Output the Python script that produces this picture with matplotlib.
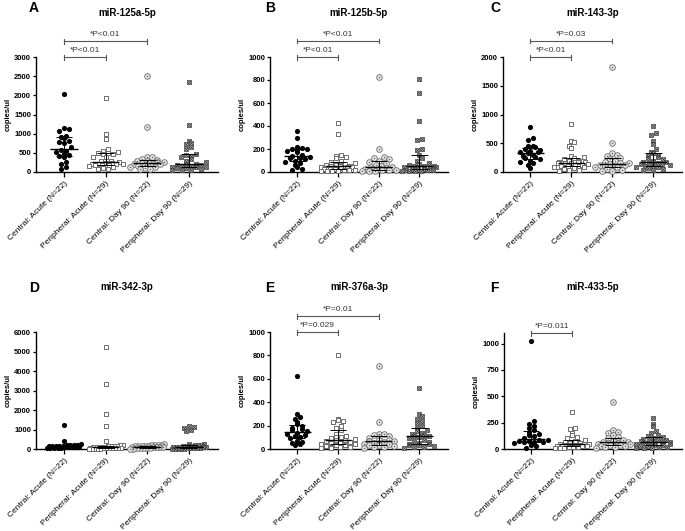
import numpy as np
import matplotlib
matplotlib.use('Agg')
import matplotlib.pyplot as plt

plt.rcParams['font.family'] = ['Liberation Sans', 'DejaVu Sans']

# ---- data (copies/ul) ----
group_labels = ['Central: Acute (N=22)', 'Peripheral: Acute (N=29)',
                'Central: Day 90 (N=22)', 'Peripheral: Day 90 (N=29)']

a_central_acute = [2030, 1150, 1120, 1080, 950, 920, 900, 820, 790, 760, 640,
                   580, 560, 530, 480, 450, 420, 390, 250, 200, 120, 90]
a_periph_acute = [1920, 1000, 870, 600, 560, 510, 500, 490, 470, 460, 400, 380,
                  300, 280, 250, 240, 230, 220, 210, 200, 200, 190, 180, 170,
                  150, 130, 110, 90, 80]
a_central_d90 = [2500, 1170, 400, 380, 350, 320, 300, 280, 260, 250, 240, 230,
                 220, 210, 200, 180, 160, 140, 120, 100, 90, 80]
a_periph_d90 = [2350, 1230, 800, 760, 720, 650, 600, 480, 450, 430, 400, 350,
                300, 250, 220, 200, 180, 170, 160, 150, 140, 130, 120, 110,
                100, 80, 60, 50, 40]

b_central_acute = [360, 300, 220, 210, 200, 200, 190, 180, 170, 150, 140, 130,
                   120, 120, 110, 100, 90, 80, 60, 40, 30, 20]
b_periph_acute = [430, 330, 150, 140, 130, 120, 100, 90, 80, 70, 60, 60, 55,
                  50, 50, 45, 40, 40, 35, 30, 30, 25, 20, 20, 15, 10, 10, 5, 5]
b_central_d90 = [830, 200, 130, 120, 110, 100, 90, 80, 60, 50, 45, 40, 35, 30,
                 30, 25, 20, 20, 15, 10, 10, 5]
b_periph_d90 = [810, 690, 440, 290, 280, 200, 190, 150, 120, 100, 80, 70, 60,
                55, 50, 50, 45, 40, 35, 30, 30, 25, 20, 20, 15, 10, 10, 5, 5]

c_central_acute = [780, 600, 560, 460, 450, 430, 400, 380, 360, 350, 340, 330,
                   300, 280, 260, 240, 220, 200, 180, 150, 120, 70]
c_periph_acute = [830, 540, 520, 450, 420, 280, 260, 240, 220, 200, 190, 180,
                  170, 170, 160, 160, 150, 140, 130, 120, 110, 100, 90, 80, 70,
                  60, 40, 30, 10]
c_central_d90 = [1830, 500, 330, 300, 280, 250, 220, 200, 180, 160, 150, 140,
                 130, 120, 110, 100, 90, 80, 60, 40, 20, 10]
c_periph_d90 = [800, 680, 650, 540, 480, 400, 350, 330, 300, 280, 260, 240,
                220, 200, 180, 170, 160, 150, 140, 130, 120, 110, 100, 90, 80,
                70, 50, 40, 30]

d_central_acute = [1230, 420, 250, 230, 220, 200, 180, 170, 160, 150, 140, 130,
                   120, 110, 100, 90, 80, 70, 60, 50, 40, 30]
d_periph_acute = [5250, 3350, 1800, 1200, 400, 200, 180, 160, 150, 140, 130,
                  120, 110, 100, 90, 80, 70, 60, 55, 50, 45, 40, 35, 30, 25,
                  20, 15, 10, 5]
d_central_d90 = [250, 230, 220, 200, 180, 170, 160, 150, 140, 130, 120, 110,
                 100, 90, 80, 70, 60, 50, 40, 30, 20, 10]
d_periph_d90 = [1200, 1130, 1060, 990, 920, 280, 250, 220, 200, 180, 160, 150,
                140, 130, 120, 110, 100, 90, 80, 70, 60, 50, 40, 30, 25, 20,
                15, 10, 5]

e_central_acute = [620, 300, 270, 260, 230, 210, 200, 180, 170, 160, 150, 140,
                   130, 120, 110, 100, 90, 70, 60, 50, 40, 30]
e_periph_acute = [800, 260, 250, 240, 230, 200, 180, 160, 130, 110, 100, 100,
                  90, 85, 80, 75, 70, 60, 55, 50, 45, 40, 35, 30, 25, 20, 15,
                  10, 5]
e_central_d90 = [710, 230, 130, 125, 120, 110, 100, 90, 80, 75, 70, 65, 60, 50,
                 45, 40, 35, 30, 25, 20, 15, 10]
e_periph_d90 = [520, 300, 280, 260, 240, 220, 200, 180, 160, 150, 140, 130,
                120, 115, 110, 100, 90, 80, 70, 60, 50, 45, 40, 35, 30, 25, 20,
                15, 10]

f_central_acute = [1020, 270, 240, 220, 200, 180, 160, 140, 130, 120, 100, 90,
                   85, 80, 75, 70, 70, 65, 60, 40, 30, 10]
f_periph_acute = [350, 200, 190, 150, 130, 110, 100, 90, 80, 70, 60, 55, 50,
                  45, 45, 40, 40, 35, 35, 30, 30, 25, 25, 20, 20, 15, 10, 10, 5]
f_central_d90 = [450, 180, 160, 150, 130, 110, 100, 90, 80, 70, 65, 60, 55, 50,
                 45, 40, 35, 30, 25, 20, 15, 10]
f_periph_d90 = [290, 240, 220, 170, 150, 130, 120, 110, 100, 95, 90, 85, 80,
                75, 70, 65, 60, 55, 50, 45, 40, 35, 30, 25, 20, 15, 10, 5, 5]

panel_letters = ['A', 'B', 'C', 'D', 'E', 'F']
panel_titles = ['miR-125a-5p', 'miR-125b-5p', 'miR-143-3p',
                'miR-342-3p', 'miR-376a-3p', 'miR-433-5p']
panel_series = [
    [a_central_acute, a_periph_acute, a_central_d90, a_periph_d90],
    [b_central_acute, b_periph_acute, b_central_d90, b_periph_d90],
    [c_central_acute, c_periph_acute, c_central_d90, c_periph_d90],
    [d_central_acute, d_periph_acute, d_central_d90, d_periph_d90],
    [e_central_acute, e_periph_acute, e_central_d90, e_periph_d90],
    [f_central_acute, f_periph_acute, f_central_d90, f_periph_d90],
]
panel_ymax = [3000, 1000, 2000, 6000, 1000, 1100]
panel_yticks = [np.arange(0, 3001, 500), np.arange(0, 1001, 200),
                np.arange(0, 2001, 500), np.arange(0, 6001, 1000),
                np.arange(0, 1001, 200), np.arange(0, 1001, 250)]
# (group_from, group_to, label) for each significance bracket
panel_sig = [
    [(0, 1, '*P<0.01'), (0, 2, '*P<0.01')],
    [(0, 1, '*P<0.01'), (0, 2, '*P<0.01')],
    [(0, 1, '*P<0.01'), (0, 2, '*P=0.03')],
    [],
    [(0, 1, '*P=0.029'), (0, 2, '*P=0.01')],
    [(0, 1, '*P=0.011')],
]

# ---- layout (pixels of a 685x531 canvas) ----
W, H = 685, 531
fig = plt.figure(figsize=(W / 100, H / 100), dpi=100)
# left, right, top, bottom of each axes in pixels
boxes = [(36, 218, 57, 172), (270, 448, 57, 172), (503, 682, 57, 172),
         (36, 218, 332, 449), (270, 448, 332, 449), (504, 682, 333, 449)]
letter_pos = [(29, 8), (265, 8), (490, 8), (29, 288), (265, 288), (490, 288)]
XLIM = (-0.67, 3.7)
MARK_PX = 5.0
MAX_HALF_PX = 17.0


def swarm_offsets(ypx, d, half):
    """Prism-like scatter: points in the same row spread side by side."""
    ypx = np.asarray(ypx)
    xs = np.zeros(len(ypx))
    rows = np.floor(ypx / d).astype(int)
    for row in np.unique(rows):
        idx = np.where(rows == row)[0]
        n = len(idx)
        if n == 1:
            continue
        sp = min(d, 2 * half / (n - 1))
        offs = (np.arange(n) - (n - 1) / 2) * sp
        order = np.argsort(ypx[idx])
        perm = np.r_[0:n:2, 1:n:2][:n] if n > 2 else np.arange(n)
        xs[idx[order]] = offs[perm]
    return xs


for k in range(6):
    l, r, t, b = boxes[k]
    ax = fig.add_axes([l / W, 1 - b / H, (r - l) / W, (b - t) / H])
    ymax = panel_ymax[k]
    ax.set_xlim(*XLIM)
    ax.set_ylim(0, ymax)
    px_per_y = (b - t) / ymax
    px_per_x = (r - l) / (XLIM[1] - XLIM[0])

    for g, vals in enumerate(panel_series[k]):
        vals = np.asarray(vals, dtype=float)
        xo = swarm_offsets(vals * px_per_y, MARK_PX, MAX_HALF_PX) / px_per_x + g
        if g == 0:
            ax.scatter(xo, vals, s=14, marker='o', color='black', lw=0,
                       zorder=3, clip_on=False)
        elif g == 1:
            ax.scatter(xo, vals, s=12, marker='s', facecolor='white',
                       edgecolor='#6e6e6e', lw=0.7, zorder=3, clip_on=False)
        elif g == 2:
            ax.scatter(xo, vals, s=16, marker='o', facecolor='white',
                       edgecolor='#6e6e6e', lw=0.7, zorder=3, clip_on=False)
            ax.scatter(xo, vals, s=2, marker='o', color='#6e6e6e', lw=0,
                       zorder=3, clip_on=False)
        else:
            ax.scatter(xo, vals, s=12, marker='s', facecolor='#bdbdbd',
                       edgecolor='#555555', lw=0.6, zorder=3, clip_on=False)
            ax.scatter(xo, vals, s=6, marker='x', color='#333333', lw=0.5,
                       zorder=3, clip_on=False)
        q1, med, q3 = np.percentile(vals, [25, 50, 75])
        ax.hlines(med, g - 0.33, g + 0.33, color='black', lw=1.0, zorder=4)
        ax.vlines(g, q1, q3, color='black', lw=0.7, zorder=4)
        ax.hlines([q1, q3], g - 0.2, g + 0.2, color='black', lw=0.7, zorder=4)

    # significance brackets
    step = 16 / px_per_y
    tick = 2.5 / px_per_y
    for n, (g0, g1, txt) in enumerate(panel_sig[k]):
        y = ymax + n * step
        ax.plot([g0, g1], [y, y], color='#555555', lw=0.8, clip_on=False)
        for gx in (g0, g1):
            ax.plot([gx, gx], [y - tick, y + tick], color='#555555', lw=0.8,
                    clip_on=False)
        ax.annotate(txt, ((g0 + g1) / 2, y), xytext=(0, 2.5),
                    textcoords='offset points', ha='center', va='bottom',
                    fontsize=6, color='#333333', annotation_clip=False)

    ax.spines['top'].set_visible(False)
    ax.spines['right'].set_visible(False)
    ax.spines['left'].set_linewidth(1.0)
    ax.spines['bottom'].set_linewidth(1.0)
    ax.set_yticks(panel_yticks[k])
    ax.tick_params(axis='y', length=2.5, width=0.9, pad=1, labelsize=5.5)
    for lab in ax.get_yticklabels():
        lab.set_fontweight('bold')
    ax.set_xticks(range(4))
    ax.set_xticklabels(group_labels, rotation=45, ha='right',
                       rotation_mode='anchor', fontsize=6)
    ax.tick_params(axis='x', length=3.5, width=0.9, pad=2)
    ax.set_ylabel('copies/ul', fontsize=5.5, fontweight='bold', labelpad=2)

    lx, ly = letter_pos[k]
    fig.text(lx / W, 1 - ly / H, panel_letters[k], fontsize=10,
             fontweight='bold', ha='left', va='center')
    ty = 13.5 if k < 3 else 287.5
    fig.text((l + r) / 2 / W, 1 - ty / H, panel_titles[k], fontsize=7,
             fontweight='bold', ha='center', va='center')

fig.savefig('out.png', dpi=100)
